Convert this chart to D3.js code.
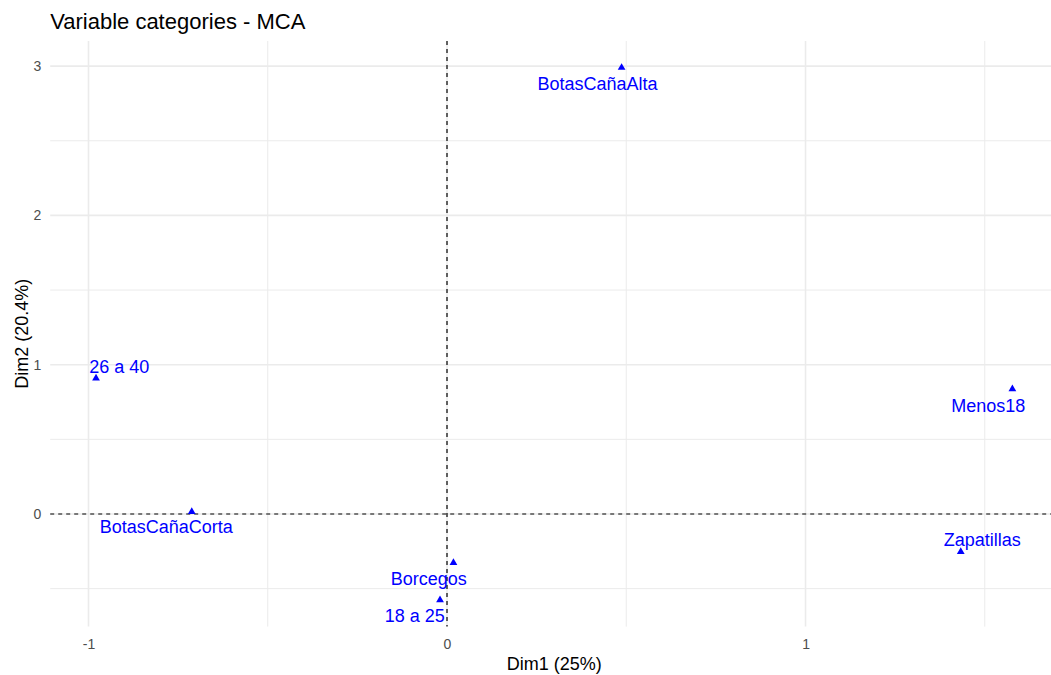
<!DOCTYPE html>
<html>
<head>
<meta charset="utf-8">
<script src="https://cdn.jsdelivr.net/npm/d3@7"></script>
<style>
  html, body { margin: 0; padding: 0; background: #fff; }
  svg { display: block; font-family: "Liberation Sans", Arial, sans-serif; }
</style>
</head>
<body>
<svg id="chart" width="1051" height="675"></svg>
<script>
// ---- data ----
const categories = ["BotasCañaAlta", "26 a 40", "BotasCañaCorta", "Borcegos", "18 a 25", "Menos18", "Zapatillas"];
const dim1 = [0.487, -0.979, -0.712, 0.018, -0.0195, 1.577, 1.433];
const dim2 = [2.99, 0.909, 0.015, -0.326, -0.576, 0.837, -0.253];
// repelled label anchor positions (data units, text baseline)
const labelDim1 = [0.420, -0.914, -0.783, -0.051, -0.090, 1.510, 1.493];
const labelDim2 = [2.839, 0.942, -0.129, -0.475, -0.721, 0.685, -0.214];
const xTicks = [-1, 0, 1];
const yTicks = [0, 1, 2, 3];
const xMinor = [-0.5, 0.5, 1.5];
const yMinor = [-0.5, 0.5, 1.5, 2.5];
const titleText = "Variable categories - MCA";
const xTitle = "Dim1 (25%)";
const yTitle = "Dim2 (20.4%)";

const svg = d3.select("#chart");

function expand(ext, f) { const r = ext[1] - ext[0]; return [ext[0] - r * f, ext[1] + r * f]; }
const xDom = expand(d3.extent(dim1), 0.05);
const yDom = expand(d3.extent(dim2), 0.05);
const panel = { left: 50.2, right: 1058.2, top: 41, bottom: 626.6 };
const x = d3.scaleLinear().domain(xDom).range([panel.left, panel.right]);
const y = d3.scaleLinear().domain(yDom).range([panel.bottom, panel.top]);

const grid = svg.append("g");
// minor grid
grid.selectAll("line.xm").data(xMinor).join("line")
  .attr("x1", d => x(d)).attr("x2", d => x(d)).attr("y1", panel.top).attr("y2", panel.bottom)
  .attr("stroke", "#ebebeb").attr("stroke-width", 1);
grid.selectAll("line.ym").data(yMinor).join("line")
  .attr("y1", d => y(d)).attr("y2", d => y(d)).attr("x1", panel.left).attr("x2", panel.right)
  .attr("stroke", "#ebebeb").attr("stroke-width", 1);
// major grid
grid.selectAll("line.xM").data(xTicks).join("line")
  .attr("x1", d => x(d)).attr("x2", d => x(d)).attr("y1", panel.top).attr("y2", panel.bottom)
  .attr("stroke", "#ebebeb").attr("stroke-width", 1.6);
grid.selectAll("line.yM").data(yTicks).join("line")
  .attr("y1", d => y(d)).attr("y2", d => y(d)).attr("x1", panel.left).attr("x2", panel.right)
  .attr("stroke", "#ebebeb").attr("stroke-width", 1.6);

// zero reference lines
svg.append("line").attr("x1", panel.left).attr("x2", panel.right).attr("y1", y(0)).attr("y2", y(0))
  .attr("stroke", "#000").attr("stroke-width", 1.2).attr("stroke-dasharray", "4,4");
svg.append("line").attr("x1", x(0)).attr("x2", x(0)).attr("y1", panel.top).attr("y2", panel.bottom)
  .attr("stroke", "#000").attr("stroke-width", 1.2).attr("stroke-dasharray", "4,4");

// axes
const fmt = d => String(d);
const xAxis = svg.append("g").attr("transform", `translate(0,${panel.bottom})`)
  .call(d3.axisBottom(x).tickValues(xTicks).tickSize(0).tickPadding(12).tickFormat(fmt));
const yAxis = svg.append("g").attr("transform", `translate(${panel.left},0)`)
  .call(d3.axisLeft(y).tickValues(yTicks).tickSize(0).tickPadding(9).tickFormat(fmt));
[xAxis, yAxis].forEach(a => {
  a.select(".domain").remove();
  a.selectAll("text").attr("fill", "#4d4d4d").style("font-size", "14px")
    .style("font-family", "'Liberation Sans', Arial, sans-serif");
});

// points
const pts = categories.map((c, i) => ({ c, x: dim1[i], y: dim2[i], lx: labelDim1[i], ly: labelDim2[i] }));
svg.append("g").selectAll("path").data(pts).join("path")
  .attr("transform", d => `translate(${x(d.x)},${y(d.y)})`)
  .attr("d", d3.symbol().type(d3.symbolTriangle).size(26))
  .attr("fill", "#0000ff");

// labels
svg.append("g").selectAll("text").data(pts).join("text")
  .attr("x", d => x(d.lx)).attr("y", d => y(d.ly))
  .attr("text-anchor", "middle")
  .attr("fill", "#0000ff")
  .style("font-size", "18px")
  .text(d => d.c);

// titles
svg.append("text").attr("x", panel.left).attr("y", 28.5)
  .attr("fill", "#000").style("font-size", "22px").text(titleText);
svg.append("text").attr("x", (panel.left + panel.right) / 2).attr("y", 670)
  .attr("text-anchor", "middle").attr("fill", "#000").style("font-size", "18px").text(xTitle);
svg.append("text")
  .attr("transform", `translate(27.5,${(panel.top + panel.bottom) / 2}) rotate(-90)`)
  .attr("text-anchor", "middle").attr("fill", "#000").style("font-size", "18px").text(yTitle);
</script>
</body>
</html>
